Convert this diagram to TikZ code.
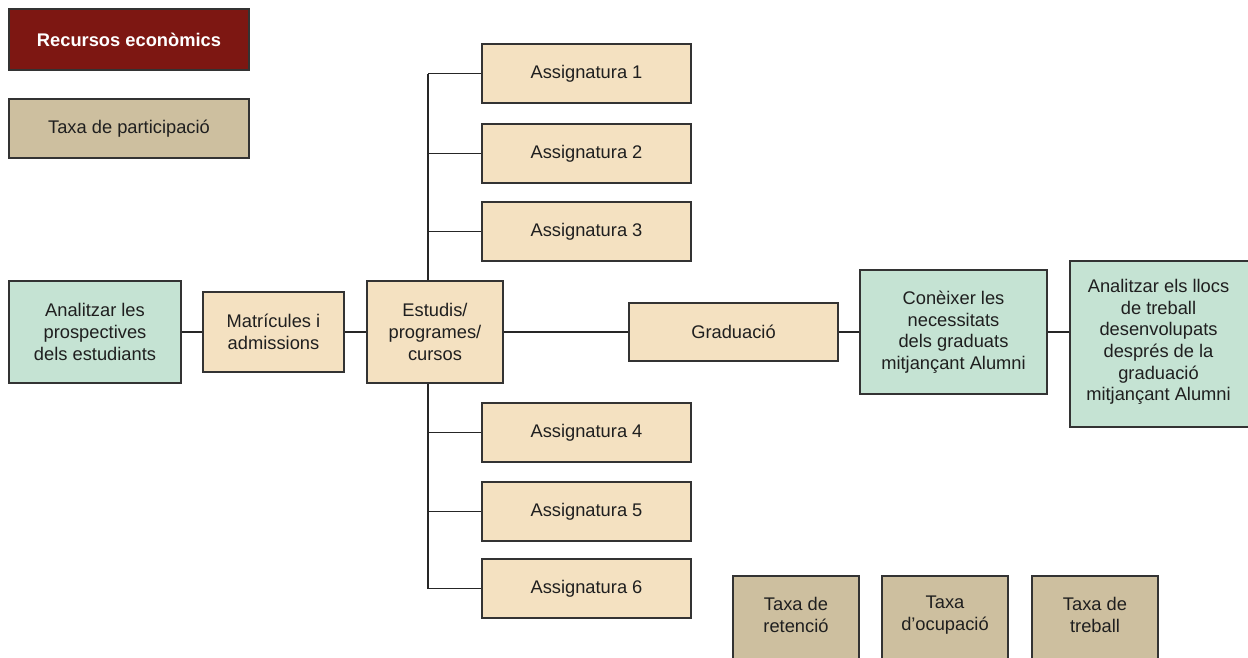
\documentclass[tikz,border=0pt]{standalone}
\usepackage{fontspec}
\setmainfont{Liberation Sans}
\definecolor{beige}{HTML}{F4E1C1}
\definecolor{mint}{HTML}{C5E3D3}
\definecolor{tan}{HTML}{CDBF9F}
\definecolor{darkred}{HTML}{7D1712}
\definecolor{edge}{HTML}{333333}
\tikzset{
  box/.style={draw=edge, line width=1.5pt, align=center, inner sep=0pt,
    font=\fontsize{18.3}{21.6}\selectfont, text=black!88},
  label/.style={align=center, inner sep=0pt,
    font=\fontsize{18.3}{21.6}\selectfont, text=black!88},
  bbox/.style={box, fill=beige},
  gbox/.style={box, fill=mint},
  tbox/.style={box, fill=tan},
  rbox/.style={box, fill=darkred, text=white, font=\fontsize{18.3}{21.6}\selectfont\bfseries},
  conn/.style={draw=black!85, line width=1.6pt},
}
\newcommand{\bx}[7]{% style, name, x1, y1, x2, y2, text
  \node[#1, minimum width={(#5-#3)*1pt}, minimum height={(#6-#4)*1pt}] (#2) at ({(#3+#5)/2},{(#4+#6)/2}) {#7};}
\begin{document}
\begin{tikzpicture}[x=1pt, y=-1pt]
\useasboundingbox (0,0) rectangle (1248,657);
% trunk behind boxes
\coordinate (ttop) at (428,74);
\coordinate (tbot) at (428,589);
\draw[conn] (ttop) -- (tbot);
\bx{rbox}{rec}{9}{9}{249}{70}{Recursos econòmics}
\bx{tbox}{part}{9}{99}{249}{158}{Taxa de participació}
\bx{bbox}{a1}{482}{44}{691}{103}{Assignatura 1}
\bx{bbox}{a2}{482}{124}{691}{183}{Assignatura 2}
\bx{bbox}{a3}{482}{202}{691}{261}{Assignatura 3}
\bx{bbox}{a4}{482}{403}{691}{462}{Assignatura 4}
\bx{bbox}{a5}{482}{482}{691}{541}{Assignatura 5}
\bx{bbox}{a6}{482}{559}{691}{618}{Assignatura 6}
\bx{gbox}{prosp}{9}{281}{181}{383}{Analitzar les\\prospectives\\dels estudiants}
\bx{bbox}{matr}{203}{292}{344}{372}{Matrícules i\\admissions}
\bx{bbox}{estud}{367}{281}{503}{383}{Estudis/\\programes/\\cursos}
\bx{bbox}{grad}{629}{303}{838}{361}{Graduació}
\bx{gbox}{conei}{860}{270}{1047}{394}{Conèixer les\\necessitats\\dels graduats\\mitjançant Alumni}
\node[gbox, minimum width=181pt, minimum height=166pt, anchor=north west] (llocs) at (1069,260) {};
\node[label] (llocst) at (1158.5,342) {Analitzar els llocs\\de treball\\desenvolupats\\després de la\\graduació\\mitjançant Alumni};
\bx{tbox}{ret}{733}{576}{859}{670}{}
\bx{tbox}{ocu}{882}{576}{1008}{670}{}
\bx{tbox}{treb}{1032}{576}{1158}{670}{}
\node[label] (rett) at (796,615) {Taxa de\\retenció};
\node[label] (ocut) at (945,615) {Taxa\\d’ocupació};
\node[label] (trebt) at (1095,615) {Taxa de\\treball};
% branches
\foreach \n in {a1,a2,a3,a4,a5,a6}{
  \draw[conn] (ttop |- \n.west) -- (\n.west);
}
\draw[conn] (prosp.east |- matr.west) -- (matr.west);
\draw[conn] (matr.east) -- (estud.west |- matr.east);
\draw[conn] (estud.east |- grad.west) -- (grad.west);
\draw[conn] (grad.east) -- (conei.west |- grad.east);
\draw[conn] (conei.east |- grad.east) -- (llocs.west |- grad.east);
\end{tikzpicture}
\end{document}
